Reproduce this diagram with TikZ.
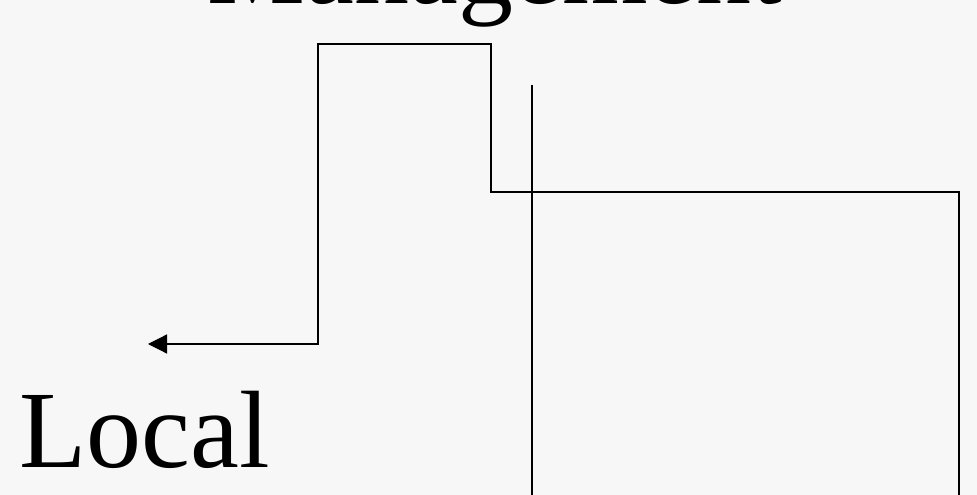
\documentclass[tikz,border=0pt]{standalone}
\usepackage{fontspec}
\setmainfont{Liberation Serif}
\usetikzlibrary{arrows.meta}

\begin{document}
\begin{tikzpicture}[
    x=1pt, y=1pt,
    % Text styles
    bigword/.style={inner sep=0pt, font=\fontsize{110}{110}\selectfont},
    % Connector styles
    link/.style={line width=1.2pt, draw=black},
    linkarrow/.style={link, -{Triangle[length=19pt, width=19pt]}}
]

    % =========================================================================
    % 1. BACKGROUND AND FRAME
    % =========================================================================
    \fill[gray!6] (0, 0) rectangle (977, 495);
    \useasboundingbox (0, 0) rectangle (977, 495);
    \clip (0, 0) rectangle (977, 495);

    % =========================================================================
    % 2. LABELS
    % =========================================================================
    \node[bigword, anchor=base] (mgmt) at (495, 491) {Management};
    \node[bigword, anchor=base west] (local) at (19, 27) {Local};

    % =========================================================================
    % 3. CONNECTORS
    % =========================================================================
    \coordinate (stepA) at (318, 151);
    \coordinate (stepB) at (318, 451);
    \coordinate (stepC) at (491, 451);
    \coordinate (stepD) at (491, 303);
    \coordinate (stepE) at (959, 303);
    \coordinate (stepF) at (959, 0);
    \coordinate (tip) at (148, 151);
    \coordinate (railTop) at (532, 410);
    \coordinate (railBot) at (532, 0);

    % --- Stepped line down to the right, arrow back to the left ---
    \draw[linkarrow] (stepF) -- (stepE) -- (stepD) -- (stepC) -- (stepB) -- (stepA) -- (tip);

    % --- Lone vertical rail ---
    \draw[link] (railTop) -- (railBot);

\end{tikzpicture}
\end{document}
